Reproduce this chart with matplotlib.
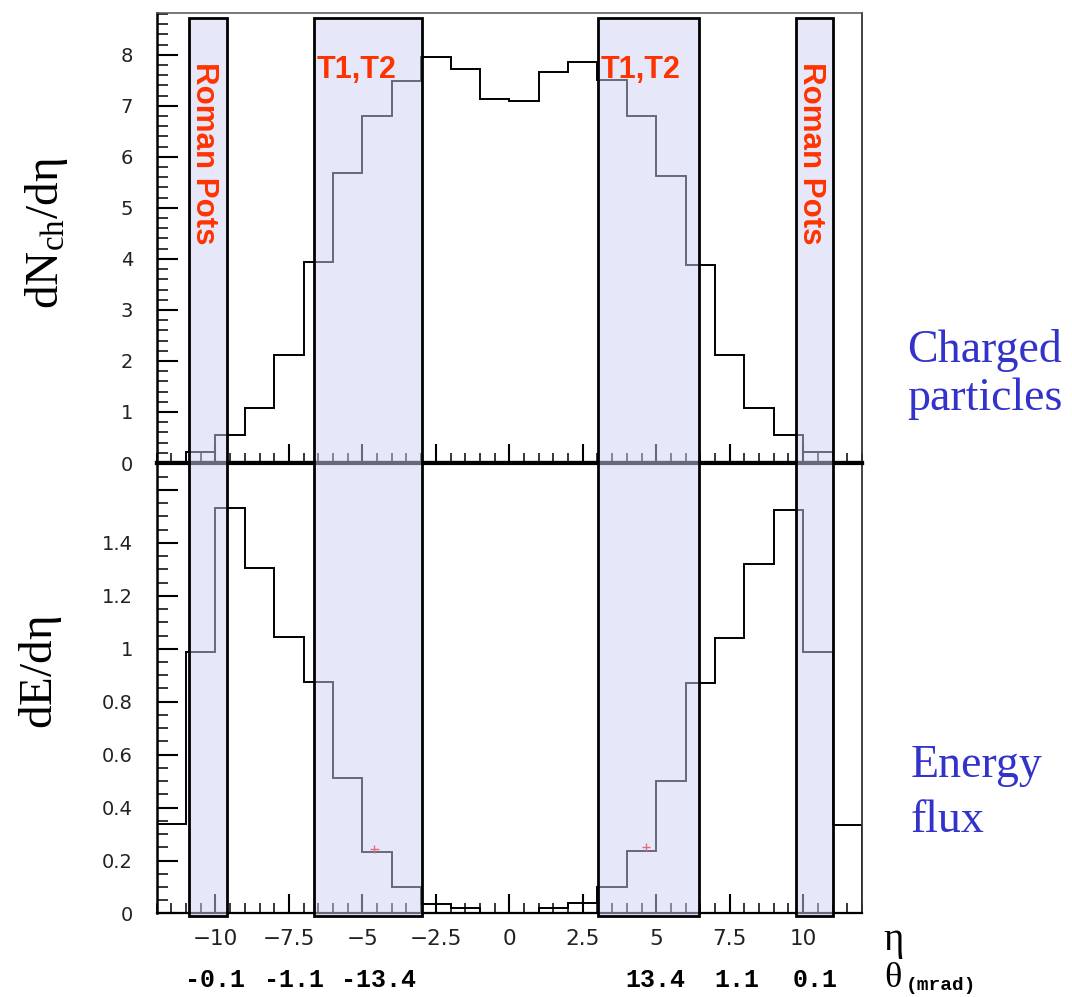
import matplotlib
matplotlib.use('Agg')
import matplotlib.pyplot as plt
import matplotlib.patches as patches
import matplotlib.transforms as mtransforms
from matplotlib.ticker import MultipleLocator, FixedLocator, FuncFormatter

plt.rcParams['mathtext.fontset'] = 'custom'
plt.rcParams['mathtext.rm'] = 'Liberation Serif'
plt.rcParams['mathtext.it'] = 'Liberation Serif:italic'

# eta bins and the two distributions
eta_edges = [-12, -11, -10, -9, -8, -7, -6, -5, -4, -3, -2, -1, 0,
             1, 2, 3, 4, 5, 6, 7, 8, 9, 10, 11, 12]
dnch_deta = [0.0, 0.21, 0.54, 1.08, 2.11, 3.93, 5.68, 6.81, 7.49, 7.96, 7.72, 7.13,
             7.09, 7.67, 7.86, 7.50, 6.81, 5.63, 3.89, 2.11, 1.08, 0.54, 0.21, 0.0]
de_deta = [0.337, 0.988, 1.532, 1.305, 1.044, 0.875, 0.512, 0.233, 0.10, 0.034, 0.019, 0.0,
           0.0, 0.02, 0.04, 0.10, 0.235, 0.50, 0.872, 1.04, 1.32, 1.523, 0.988, 0.334]

# detector windows in eta
det_names = ['Roman Pots', 'T1,T2', 'T1,T2', 'Roman Pots']
det_lo = [-10.91, -6.65, 3.03, 9.75]
det_hi = [-9.62, -2.98, 6.44, 11.02]

# theta (mrad) labels under the eta axis
theta_eta = [-10.0, -7.33, -4.45, 4.98, 7.76, 10.4]
theta_labels = ['-0.1', '-1.1', '-13.4', '13.4', '1.1', '0.1']

# small red marks near the 0.24 bins
red_x = [-4.6, 4.65]
red_y = [0.245, 0.25]

eta_ticks = [-10, -7.5, -5, -2.5, 0, 2.5, 5, 7.5, 10]
eta_ticklabels = ['\u221210', '\u22127.5', '\u22125', '\u22122.5', '0', '2.5', '5', '7.5', '10']

fig = plt.figure(figsize=(10.72, 9.97), dpi=100)
fig.patch.set_facecolor('white')

ax_top = fig.add_axes([0.1462, 0.5356, 0.6578, 0.4514])
ax_bot = fig.add_axes([0.1462, 0.0838, 0.6578, 0.4518])

ax_top.stairs(dnch_deta, eta_edges, color='black', lw=1.4, zorder=2)
ax_bot.stairs(de_deta, eta_edges, color='black', lw=1.4, zorder=2)
ax_bot.errorbar(red_x, red_y, xerr=0.15, yerr=0.015, fmt='none', ecolor='red',
                elinewidth=1, capsize=0, zorder=3)

ax_top.set_xlim(-12, 12)
ax_bot.set_xlim(-12, 12)
ax_top.set_ylim(0, 8.82)
ax_bot.set_ylim(0, 1.702)

fmt = FuncFormatter(lambda v, p: '%g' % v)
for ax in (ax_top, ax_bot):
    ax.xaxis.set_major_locator(FixedLocator(eta_ticks))
    ax.xaxis.set_minor_locator(MultipleLocator(0.5))
    ax.tick_params(axis='both', which='major', direction='in', length=15, width=1.5,
                   top=False, right=False)
    ax.tick_params(axis='x', which='major', length=14)
    ax.tick_params(axis='both', which='minor', direction='in', length=8, width=1.1,
                   top=False, right=False)
    ax.tick_params(axis='x', which='minor', length=7)
    ax.tick_params(axis='y', labelsize=14, pad=17, labelcolor='#222222')
    ax.spines['left'].set_linewidth(1.8)
    ax.spines['right'].set_linewidth(1.3)
    ax.spines['right'].set_color('#333333')

ax_top.yaxis.set_major_locator(MultipleLocator(1))
ax_top.yaxis.set_minor_locator(MultipleLocator(0.2))
ax_top.yaxis.set_major_formatter(fmt)
ax_top.tick_params(axis='x', labelbottom=False)
ax_top.spines['bottom'].set_linewidth(3)
ax_top.spines['top'].set_linewidth(1.1)
ax_top.spines['top'].set_color('#555555')

ax_bot.set_yticks([0, 0.2, 0.4, 0.6, 0.8, 1.0, 1.2, 1.4, 1.6])
ax_bot.set_yticklabels(['0', '0.2', '0.4', '0.6', '0.8', '1', '1.2', '1.4', ''])
ax_bot.yaxis.set_minor_locator(MultipleLocator(0.05))
ax_bot.set_xticklabels(eta_ticklabels)
ax_bot.tick_params(axis='x', labelsize=15.5, pad=11, labelcolor='#222222')
ax_bot.spines['top'].set_linewidth(3)
ax_bot.spines['bottom'].set_linewidth(1.6)

# detector windows spanning both pads
blend = mtransforms.blended_transform_factory(ax_bot.transData, fig.transFigure)
box_y0, box_y1 = 0.0815, 0.9816
for name, lo, hi in zip(det_names, det_lo, det_hi):
    fill = patches.Rectangle((lo, box_y0), hi - lo, box_y1 - box_y0, transform=blend,
                             facecolor=(0.82, 0.82, 0.97), alpha=0.5, edgecolor='none',
                             zorder=5)
    fig.add_artist(fill)
    edge = patches.Rectangle((lo, box_y0), hi - lo, box_y1 - box_y0, transform=blend,
                             facecolor='none', edgecolor='black', lw=2.0, zorder=6)
    fig.add_artist(edge)
    if name == 'Roman Pots':
        fig.text((lo + hi) / 2 - 0.12, 0.9378, name, transform=blend, rotation=270,
                 ha='center', va='top', color='#FF3300', fontsize=22.5,
                 fontweight='bold', family='Liberation Sans', zorder=7)
    else:
        fig.text(lo + 0.09, 0.9218, name, transform=blend, ha='left', va='baseline',
                 color='#FF3300', fontsize=22, fontweight='bold',
                 family='Liberation Sans', zorder=7)

# theta labels
for x, lab in zip(theta_eta, theta_labels):
    fig.text(x, 0.0175, lab, transform=blend, ha='center', va='center',
             fontsize=18, fontweight='bold', family='Liberation Mono')

# axis titles
fig.text(0.0438, 0.766, r'$\mathrm{dN_{ch}/d\eta}$', rotation=90, ha='center',
         va='center', fontsize=34)
fig.text(0.0375, 0.326, r'$\mathrm{dE/d\eta}$', rotation=90, ha='center',
         va='center', fontsize=34)
fig.text(0.834, 0.0562, '\u03b7', ha='center', va='center', fontsize=28,
         family='Liberation Serif')
fig.text(0.833, 0.0185, '\u03b8', ha='center', va='center', fontsize=26,
         family='Liberation Serif')
fig.text(0.845, 0.0115, '(mrad)', ha='left', va='center', fontsize=14,
         fontweight='bold', family='Liberation Mono')

# side annotations
blue = '#3333CC'
fig.text(0.846, 0.6369, 'Charged', ha='left', va='baseline', fontsize=33,
         color=blue, family='Liberation Serif')
fig.text(0.846, 0.5888, 'particles', ha='left', va='baseline', fontsize=33,
         color=blue, family='Liberation Serif')
fig.text(0.849, 0.221, 'Energy', ha='left', va='baseline', fontsize=33,
         color=blue, family='Liberation Serif')
fig.text(0.849, 0.1658, 'flux', ha='left', va='baseline', fontsize=33,
         color=blue, family='Liberation Serif')

fig.savefig('out.png', dpi=100, facecolor='white')
